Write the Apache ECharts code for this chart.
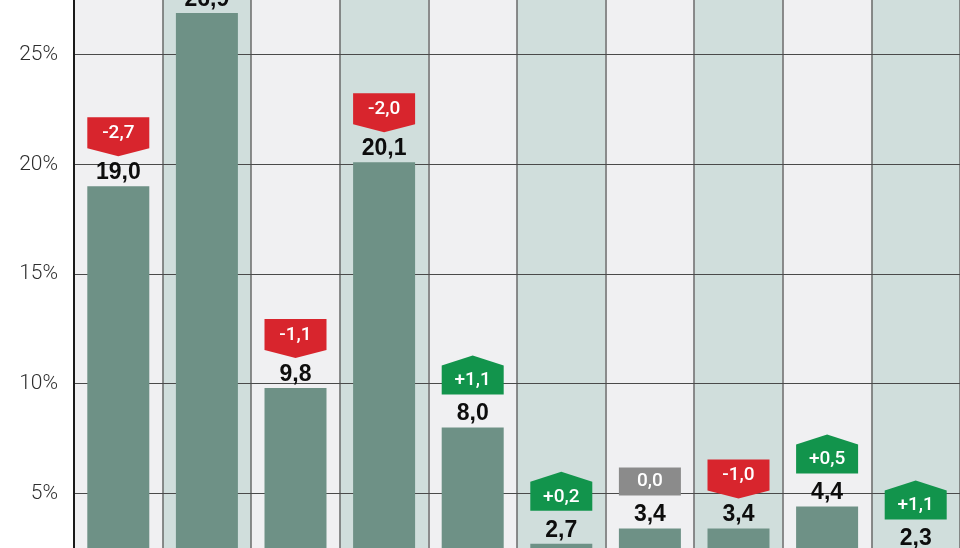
<!DOCTYPE html>
<html>
<head>
<meta charset="utf-8">
<script src="https://cdn.jsdelivr.net/npm/echarts@6/dist/echarts.min.js"></script>
<style>
  html, body { margin: 0; padding: 0; background: #ffffff; }
  #chart { width: 960px; height: 548px; }
</style>
</head>
<body>
<div id="chart"></div>
<script>
// Categories (axis labels lie below the visible crop)
var categories = ['P1', 'P2', 'P3', 'P4', 'P5', 'P6', 'P7', 'P8', 'P9', 'P10'];
// Share in percent
var values = [19.0, 26.9, 9.8, 20.1, 8.0, 2.7, 3.4, 3.4, 4.4, 2.3];
// Change in percentage points (null = not visible in the picture)
var changes = [-2.7, null, -1.1, -2.0, 1.1, 0.2, 0.0, -1.0, 0.5, 1.1];
// Y axis ticks
var yMin = 0, yMax = 30, yStep = 5;

function fmt(v, sign) {
  var s = Math.abs(v).toFixed(1).replace('.', ',');
  if (v < 0) return '-' + s;
  if (sign && v > 0) return '+' + s;
  return s;
}

var badgeData = [];
for (var i = 0; i < values.length; i++) {
  if (changes[i] !== null) badgeData.push([i, values[i], changes[i]]);
}

var chart = echarts.init(document.getElementById('chart'), null, { renderer: 'canvas' });

var option = {
  animation: false,
  backgroundColor: '#ffffff',
  grid: { left: 74, right: 0, top: -55, bottom: -55, containLabel: false, outerBoundsMode: 'none' },
  xAxis: {
    type: 'category',
    data: categories,
    boundaryGap: true,
    z: 0,
    axisLine: { show: false },
    axisTick: { show: false },
    axisLabel: { show: false },
    splitLine: { show: true, interval: 0, lineStyle: { color: '#6a6a6a', width: 1.5 } },
    splitArea: { show: true, interval: 0, areaStyle: { color: ['#f0f0f2', '#d0dedc'] } }
  },
  yAxis: {
    type: 'value',
    min: yMin,
    max: yMax,
    interval: yStep,
    z: 1,
    axisLine: { show: true, lineStyle: { color: '#1a1a1a', width: 2 } },
    axisTick: { show: false },
    axisLabel: {
      formatter: '{value}%',
      fontFamily: 'Roboto',
      fontWeight: 300,
      fontSize: 21,
      color: '#2e2e2e',
      margin: 16
    },
    splitLine: { show: true, lineStyle: { color: '#4a4a4a', width: 1.2 } }
  },
  series: [
    {
      type: 'bar',
      data: values,
      barWidth: 62,
      itemStyle: { color: '#6e9186' },
      z: 3,
      label: {
        show: true,
        position: 'top',
        distance: 2,
        formatter: function (p) { return fmt(p.value, false); },
        fontFamily: 'Liberation Sans',
        fontWeight: 'bold',
        fontSize: 23,
        color: '#0d0d0d'
      }
    },
    {
      type: 'custom',
      z: 5,
      data: badgeData,
      renderItem: function (params, api) {
        var idx = api.value(0), v = api.value(1), d = api.value(2);
        var p = api.coord([idx, v]);
        var w = 62, x0 = p[0] - w / 2, x1 = p[0] + w / 2, y = p[1];
        var pts, fill, ty;
        if (d < 0) {
          pts = [[x0, y - 69], [x1, y - 69], [x1, y - 38], [p[0], y - 30], [x0, y - 38]];
          fill = '#d8252d';
          ty = y - 53;
        } else if (d > 0) {
          pts = [[x0, y - 62], [p[0], y - 72], [x1, y - 62], [x1, y - 33], [x0, y - 33]];
          fill = '#12944c';
          ty = y - 47;
        } else {
          pts = [[x0, y - 61], [x1, y - 61], [x1, y - 33], [x0, y - 33]];
          fill = '#8b8b8b';
          ty = y - 47;
        }
        return {
          type: 'group',
          children: [
            { type: 'polygon', shape: { points: pts }, style: { fill: fill } },
            {
              type: 'text',
              style: {
                text: fmt(d, true),
                x: p[0],
                y: ty,
                align: 'center',
                verticalAlign: 'middle',
                fill: '#ffffff',
                font: '500 19px Roboto'
              }
            }
          ]
        };
      }
    }
  ]
};

chart.setOption(option);
</script>
</body>
</html>
